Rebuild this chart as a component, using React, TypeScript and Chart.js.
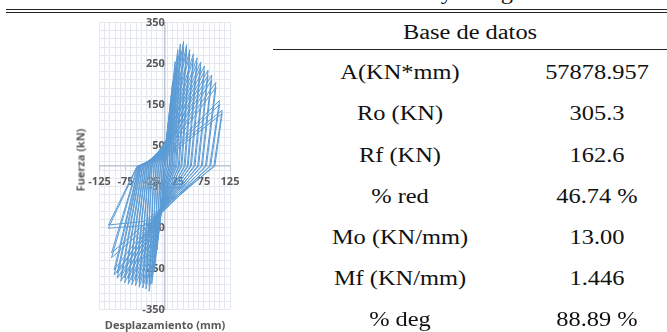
import React, { useEffect, useRef } from "react";
import { Chart, registerables } from "chart.js";
Chart.register(...registerables);

// Hysteresis cycles (displacement in mm, force in kN)
// First cycle at each amplitude
const posPinchX = [1, 1, 2, 2, 3, 3, 4, 4, 4, 5, 5, 5, 5, 5, 5, 4, 3, 2];
const posPinchY = [20, 40, 50, 55, 58, 60, 62, 64, 66, 65, 63, 60, 56, 50, 44, 38, 32, 26];
const posPeakX = [5, 10, 15, 20, 25, 30, 36, 42, 48, 55, 62, 69, 76, 83, 90, 98, 105, 110];
const posPeakY = [70, 140, 205, 255, 284, 298, 304, 296, 284, 274, 264, 254, 244, 234, 222, 204, 160, 136];
const posZeroX = [2, 5, 8, 11, 14, 17, 21, 26, 31, 37, 43, 49, 56, 63, 70, 78, 86, 94];
const negPinchX = [-1, -2, -3, -4, -4, -5, -5, -5, -5, -5, -6, -6, -6, -7, -8, -12, -20, -38];
const negPinchY = [-20, -45, -65, -80, -90, -96, -100, -102, -104, -106, -106, -108, -110, -112, -115, -122, -132, -145];
const negPeakX = [-5, -10, -15, -20, -25, -30, -36, -42, -49, -56, -63, -70, -77, -84, -91, -97, -102, -108];
const negPeakY = [-70, -140, -205, -255, -288, -306, -300, -298, -296, -292, -290, -288, -285, -281, -274, -266, -224, -152];
const negZeroX = [-2, -5, -8, -12, -16, -20, -24, -27, -30, -33, -36, -39, -42, -45, -47, -49, -51, -52];
// Repeat cycle at each amplitude
const pos2PinchY = [15, 30, 40, 45, 48, 50, 52, 54, 55, 54, 52, 50, 46, 42, 36, 30, 26, 20];
const pos2PeakY = [65, 130, 192, 240, 268, 282, 290, 284, 272, 262, 252, 242, 232, 222, 210, 192, 150, 128];
const pos2ZeroX = [2, 5, 9, 12, 15, 19, 23, 28, 33, 39, 45, 51, 58, 65, 72, 80, 88, 96];
const neg2PinchY = [-15, -38, -55, -70, -80, -86, -90, -92, -94, -96, -96, -98, -100, -102, -105, -112, -122, -135];
const neg2PeakY = [-65, -130, -192, -242, -272, -290, -288, -286, -284, -280, -278, -276, -273, -270, -262, -254, -212, -144];
const neg2ZeroX = [-2, -5, -9, -13, -17, -21, -25, -28, -31, -34, -37, -40, -43, -46, -48, -50, -52, -53];

// Axis labels
const xTickLabels = [-125, -75, -25, 25, 75, 125];
const yTickLabels = [-350, -250, -150, -50, 50, 150, 250, 350];
const xMin = -125, xMax = 125, xGridStep = 10;
const yMin = -350, yMax = 350, yGridStep = 20;

// Table
const tableHeader = "Base de datos";
const tableLabels = ["A(KN*mm)", "Ro (KN)", "Rf (KN)", "% red", "Mo (KN/mm)", "Mf (KN/mm)", "% deg"];
const tableValues = ["57878.957", "305.3", "162.6", "46.74 %", "13.00", "1.446", "88.89 %"];
const caption = "Tabla 3. Ciclos de histéresis y energía";

const lineColor = "#5b9bd5";
const gridColor = "#e3e7ee";
const axisColor = "#bcc5d3";
const textGray = "#595959";

function buildPath() {
  const pts: { x: number; y: number }[] = [{ x: 0, y: 0 }];
  for (let i = 0; i < posPeakX.length; i++) {
    pts.push({ x: posPinchX[i], y: posPinchY[i] });
    pts.push({ x: posPeakX[i], y: posPeakY[i] });
    pts.push({ x: posZeroX[i], y: 0 });
    pts.push({ x: negPinchX[i], y: negPinchY[i] });
    pts.push({ x: negPeakX[i], y: negPeakY[i] });
    pts.push({ x: negZeroX[i], y: 0 });
    pts.push({ x: posPinchX[i], y: pos2PinchY[i] });
    pts.push({ x: posPeakX[i], y: pos2PeakY[i] });
    pts.push({ x: pos2ZeroX[i], y: 0 });
    pts.push({ x: negPinchX[i], y: neg2PinchY[i] });
    pts.push({ x: negPeakX[i], y: neg2PeakY[i] });
    pts.push({ x: neg2ZeroX[i], y: 0 });
  }
  return pts;
}

function range(a: number, b: number, step: number) {
  const out: number[] = [];
  for (let v = a; v <= b + 1e-9; v += step) out.push(v);
  return out;
}

const serif = "'Liberation Serif', 'Times New Roman', serif";
const SX = 1.22;

function Cell({ x, y, text }: { x: number; y: number; text: string }) {
  return (
    <div
      style={{
        position: "absolute",
        left: x,
        top: y,
        transform: `translate(-50%, -50%) scaleX(${SX})`,
        whiteSpace: "nowrap",
        font: `20px ${serif}`,
        lineHeight: "20px",
        color: "#111",
      }}
    >
      {text}
    </div>
  );
}

export default function App() {
  const ref = useRef<HTMLCanvasElement | null>(null);
  useEffect(() => {
    if (!ref.current) return;
    const xGrid = range(xMin, xMax, xGridStep);
    const yGrid = range(yMin, yMax, yGridStep);
    const tickFont = { family: "'Open Sans', sans-serif", size: 11, weight: "bold" as const };
    const chart = new Chart(ref.current, {
      type: "scatter",
      data: {
        datasets: [
          {
            data: buildPath(),
            showLine: true,
            borderColor: lineColor,
            borderWidth: 1,
            pointRadius: 0,
            tension: 0,
            fill: false,
          },
        ],
      },
      options: {
        animation: false,
        responsive: false,
        maintainAspectRatio: false,
        layout: { padding: { left: 19.5, top: 11.7, right: 20, bottom: 12.7 } },
        plugins: { legend: { display: false }, tooltip: { enabled: false } },
        scales: {
          x: {
            type: "linear",
            min: xMin,
            max: xMax,
            position: { y: 0 } as any,
            afterBuildTicks: (s: any) => {
              s.ticks = xGrid.map((v) => ({ value: v }));
            },
            ticks: {
              autoSkip: false,
              maxRotation: 0,
              padding: 5,
              color: textGray,
              font: tickFont,
              callback: (v: any) => (xTickLabels.includes(Number(v)) ? String(v) : ""),
            },
            grid: {
              color: gridColor,
              lineWidth: 1,
              tickLength: 4,
              tickColor: (ctx: any) =>
                ctx.tick && xTickLabels.includes(ctx.tick.value) ? axisColor : "rgba(0,0,0,0)",
            },
            border: { display: true, color: axisColor, width: 1.5 },
          },
          y: {
            type: "linear",
            min: yMin,
            max: yMax,
            position: { x: 0 } as any,
            afterBuildTicks: (s: any) => {
              s.ticks = yGrid.map((v) => ({ value: v }));
            },
            ticks: {
              autoSkip: false,
              padding: 8,
              color: textGray,
              font: tickFont,
              callback: (v: any) => (yTickLabels.includes(Number(v)) ? String(v) : ""),
            },
            grid: {
              color: gridColor,
              lineWidth: 1,
              tickLength: 4,
              tickColor: (ctx: any) =>
                ctx.tick && yTickLabels.includes(ctx.tick.value) ? axisColor : "rgba(0,0,0,0)",
            },
            border: { display: true, color: axisColor, width: 1.5 },
          },
        },
      },
    });
    return () => chart.destroy();
  }, []);

  const rowY = [72, 113, 155, 196, 237, 278, 319];

  return (
    <div
      style={{
        position: "fixed",
        left: 0,
        top: 0,
        width: 667,
        height: 332,
        overflow: "hidden",
        background: "#fff",
      }}
    >
      <div
        style={{
          position: "absolute",
          left: 162,
          top: -18.3,
          transform: `scaleX(${SX})`,
          transformOrigin: "left top",
          whiteSpace: "nowrap",
          font: `20px ${serif}`,
          lineHeight: "20px",
          color: "#111",
        }}
      >
        {caption}
      </div>
      <div style={{ position: "absolute", left: 6, right: 0, top: 9, height: 1, background: "#222" }} />
      <div style={{ position: "absolute", left: 6, right: 0, top: 12, height: 1, background: "#222" }} />

      <canvas
        ref={ref}
        width={170}
        height={316}
        style={{ position: "absolute", left: 80, top: 8, width: 170, height: 316 }}
      />
      <div
        style={{
          position: "absolute",
          left: 80,
          top: 160,
          transform: "translate(-50%, -50%) rotate(-90deg)",
          whiteSpace: "nowrap",
          font: "bold 11px 'Open Sans', sans-serif",
          color: textGray,
        }}
      >
        Fuerza (kN)
      </div>
      <div
        style={{
          position: "absolute",
          left: 165,
          top: 324,
          transform: "translate(-50%, -50%)",
          whiteSpace: "nowrap",
          font: "bold 11px 'Open Sans', sans-serif",
          color: textGray,
        }}
      >
        Desplazamiento (mm)
      </div>

      <Cell x={470} y={32} text={tableHeader} />
      <div style={{ position: "absolute", left: 273, right: 0, top: 49, height: 1, background: "#222" }} />
      {tableLabels.map((t, i) => (
        <Cell key={"l" + i} x={400} y={rowY[i]} text={t} />
      ))}
      {tableValues.map((t, i) => (
        <Cell key={"v" + i} x={597} y={rowY[i]} text={t} />
      ))}
    </div>
  );
}
